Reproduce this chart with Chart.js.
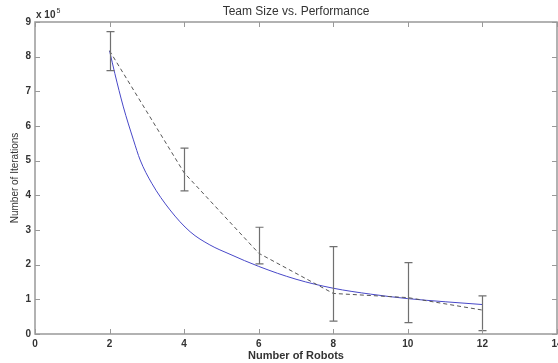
<!DOCTYPE html>
<html>
<head>
<meta charset="utf-8">
<script src="https://cdn.jsdelivr.net/npm/chart.js@4.4.1/dist/chart.umd.min.js"></script>
<style>
  html, body { margin: 0; padding: 0; background: #fff; overflow: hidden; }
  canvas { display: block; }
</style>
</head>
<body>
<canvas id="c" width="558" height="363"></canvas>
<script>
// values in units of 10^5 iterations
const robots = [2, 4, 6, 8, 10, 12];
const meanIters = [8.17, 4.65, 2.33, 1.17, 1.05, 0.69];
const errLow = [7.60, 4.13, 2.02, 0.37, 0.33, 0.10];
const errHigh = [8.72, 5.36, 3.08, 2.52, 2.06, 1.10];

// fitted curve
const fitX = [2, 2.14, 2.37, 2.64, 2.82, 3.13, 3.62, 4.16, 4.69, 5.23, 6, 7, 8, 9, 10, 11, 12];
const fitY = [8.17, 7.52, 6.55, 5.6, 5.02, 4.35, 3.58, 2.95, 2.57, 2.3, 1.95, 1.58, 1.32, 1.15, 1.02, 0.93, 0.85];

const xTicks = [0, 2, 4, 6, 8, 10, 12, 14];
const yTicks = [0, 1, 2, 3, 4, 5, 6, 7, 8, 9];

const axisGrey = '#999';

// box, inward ticks, error bars and the x 10^5 note
const matlabAxes = {
  id: 'matlabAxes',
  afterDatasetsDraw(chart) {
    const ctx = chart.ctx;
    const xs = chart.scales.x, ys = chart.scales.y;
    ctx.save();
    ctx.strokeStyle = '#707070';
    ctx.lineWidth = 1.2;
    for (let i = 0; i < robots.length; i++) {
      const px = Math.round(xs.getPixelForValue(robots[i])) + 0.5;
      const lo = ys.getPixelForValue(errLow[i]);
      const hi = ys.getPixelForValue(errHigh[i]);
      ctx.beginPath();
      ctx.moveTo(px, lo); ctx.lineTo(px, hi);
      ctx.moveTo(px - 4, lo); ctx.lineTo(px + 4, lo);
      ctx.moveTo(px - 4, hi); ctx.lineTo(px + 4, hi);
      ctx.stroke();
    }
    ctx.restore();
  },
  afterDraw(chart) {
    const ctx = chart.ctx;
    const a = chart.chartArea;
    const xs = chart.scales.x, ys = chart.scales.y;
    ctx.save();
    ctx.strokeStyle = axisGrey;
    ctx.lineWidth = 1.5;
    ctx.strokeRect(a.left, a.top, a.right - a.left, a.bottom - a.top);
    ctx.lineWidth = 1;
    ctx.beginPath();
    xTicks.forEach(v => {
      const px = Math.round(xs.getPixelForValue(v)) + 0.5;
      ctx.moveTo(px, a.bottom); ctx.lineTo(px, a.bottom - 5);
      ctx.moveTo(px, a.top); ctx.lineTo(px, a.top + 5);
    });
    yTicks.forEach(v => {
      const py = Math.round(ys.getPixelForValue(v)) + 0.5;
      ctx.moveTo(a.left, py); ctx.lineTo(a.left + 5, py);
      ctx.moveTo(a.right, py); ctx.lineTo(a.right - 5, py);
    });
    ctx.stroke();

    ctx.fillStyle = '#333';
    ctx.textBaseline = 'alphabetic';
    ctx.font = 'bold 10px "Liberation Sans", Arial, sans-serif';
    ctx.fillText('x 10', a.left + 1, a.top - 4);
    const w = ctx.measureText('x 10').width;
    ctx.font = '7px "Liberation Sans", Arial, sans-serif';
    ctx.fillText('5', a.left + 2 + w, a.top - 9);
    ctx.restore();
  }
};

new Chart(document.getElementById('c'), {
  type: 'line',
  data: {
    datasets: [
      {
        label: 'mean',
        data: robots.map((r, i) => ({ x: r, y: meanIters[i] })),
        borderColor: '#555',
        borderWidth: 1,
        borderDash: [4, 3],
        pointRadius: 0,
        fill: false
      },
      {
        label: 'fit',
        data: fitX.map((r, i) => ({ x: r, y: fitY[i] })),
        borderColor: '#4848c8',
        borderWidth: 1,
        cubicInterpolationMode: 'monotone',
        pointRadius: 0,
        fill: false
      }
    ]
  },
  options: {
    responsive: false,
    animation: false,
    devicePixelRatio: 1,
    layout: { autoPadding: false, padding: { top: 0, right: 1, left: 0, bottom: 0 } },
    plugins: {
      legend: { display: false },
      tooltip: { enabled: false },
      title: {
        display: true,
        text: 'Team Size vs. Performance',
        fullSize: false,
        color: '#333',
        font: { family: '"Liberation Sans", Arial, sans-serif', size: 12, weight: 'normal' },
        padding: { top: 4, bottom: 3.6 }
      }
    },
    scales: {
      x: {
        type: 'linear',
        min: 0,
        max: 14,
        afterFit(s) { s.height = 29; s.paddingLeft = 0; s.paddingRight = 0; },
        afterBuildTicks(s) { s.ticks = xTicks.map(v => ({ value: v })); },
        grid: { display: false, drawTicks: false },
        border: { display: false },
        ticks: {
          padding: 4,
          maxRotation: 0,
          autoSkip: false,
          color: '#333',
          font: { family: '"Liberation Sans", Arial, sans-serif', size: 10, weight: 'bold' }
        },
        title: {
          display: true,
          text: 'Number of Robots',
          color: '#333',
          font: { family: '"Liberation Sans", Arial, sans-serif', size: 11, weight: 'bold' },
          padding: { top: 3.4, bottom: 0 }
        }
      },
      y: {
        type: 'linear',
        min: 0,
        max: 9,
        afterFit(s) { s.width = 35; s.paddingTop = 0; s.paddingBottom = 0; },
        afterBuildTicks(s) { s.ticks = yTicks.map(v => ({ value: v })); },
        grid: { display: false, drawTicks: false },
        border: { display: false },
        ticks: {
          padding: 4,
          autoSkip: false,
          color: '#333',
          font: { family: '"Liberation Sans", Arial, sans-serif', size: 10, weight: 'bold' }
        },
        title: {
          display: true,
          text: 'Number of Iterations',
          color: '#333',
          font: { family: '"Liberation Sans", Arial, sans-serif', size: 10, weight: 'normal' },
          padding: { top: 9, bottom: 0 }
        }
      }
    }
  },
  plugins: [matlabAxes]
});
</script>
</body>
</html>
